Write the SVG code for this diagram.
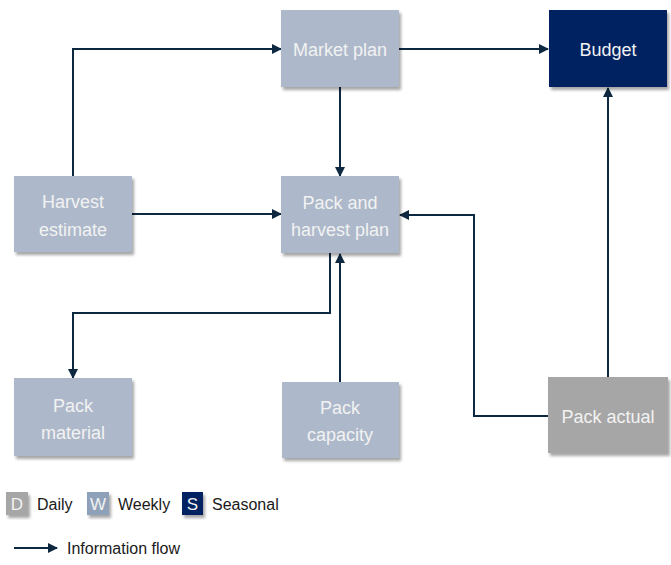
<svg xmlns="http://www.w3.org/2000/svg" width="671" height="565" viewBox="0 0 671 565">
  <style>
    .box { stroke: none; filter: url(#shadow); }
    .weekly { fill: #ADB9CA; }
    .weekly-key { fill: #8FA1B9; }
    .seasonal { fill: #002060; }
    .daily { fill: #A6A6A6; }
    .label { font-family: "Liberation Sans", Arial, sans-serif; font-size: 18px; fill: #F2F2F2; text-anchor: middle; }
    .legend { font-family: "Liberation Sans", Arial, sans-serif; font-size: 16px; fill: #1A1A1A; }
    .key { font-family: "Liberation Sans", Arial, sans-serif; font-size: 17px; fill: #F2F2F2; text-anchor: middle; }
    .flow { fill: none; stroke: #0E2841; stroke-width: 2; marker-end: url(#arrow); }
  </style>
  <defs>
    <filter id="shadow" x="-10%" y="-10%" width="130%" height="130%">
      <feDropShadow dx="2" dy="3" stdDeviation="1.8" flood-color="#000" flood-opacity="0.35"/>
    </filter>
    <marker id="arrow" viewBox="0 0 10 10" refX="9" refY="5" markerWidth="5" markerHeight="5" orient="auto" markerUnits="strokeWidth">
      <path d="M0,0 L10,5 L0,10 z" fill="#0E2841"/>
    </marker>
  </defs>

  <rect width="671" height="565" fill="#FFFFFF"/>

  <!-- connectors -->
  <g id="connectors">
    <path class="flow" d="M73,176 V49 H281"/>
    <path class="flow" d="M132,214 H281"/>
    <path class="flow" d="M399,49 H548"/>
    <path class="flow" d="M340,87 V176"/>
    <path class="flow" d="M330,253 V313 H73 V378"/>
    <path class="flow" d="M340,382 V254"/>
    <path class="flow" d="M548,416 H474 V215 H400"/>
    <path class="flow" d="M608,377 V88"/>
  </g>

  <!-- nodes -->
  <g id="market-plan">
    <rect class="box weekly" x="281" y="10" width="118" height="77"/>
    <text class="label" x="340" y="56">Market plan</text>
  </g>
  <g id="budget">
    <rect class="box seasonal" x="549" y="10" width="118" height="77"/>
    <text class="label" x="608" y="56" fill="#FFFFFF">Budget</text>
  </g>
  <g id="harvest-estimate">
    <rect class="box weekly" x="14" y="176" width="118" height="76"/>
    <text class="label" x="73" y="208">Harvest</text>
    <text class="label" x="73" y="236">estimate</text>
  </g>
  <g id="pack-and-harvest-plan">
    <rect class="box weekly" x="281" y="176" width="118" height="77"/>
    <text class="label" x="340" y="209">Pack and</text>
    <text class="label" x="340" y="236">harvest plan</text>
  </g>
  <g id="pack-material">
    <rect class="box weekly" x="14" y="378" width="118" height="78"/>
    <text class="label" x="73" y="412">Pack</text>
    <text class="label" x="73" y="439">material</text>
  </g>
  <g id="pack-capacity">
    <rect class="box weekly" x="282" y="382" width="117" height="76"/>
    <text class="label" x="340" y="414">Pack</text>
    <text class="label" x="340" y="441">capacity</text>
  </g>
  <g id="pack-actual">
    <rect class="box daily" x="548" y="377" width="120" height="76"/>
    <text class="label" x="608" y="423">Pack actual</text>
  </g>

  <!-- legend -->
  <g id="legend">
    <rect class="box daily" x="6" y="492" width="22" height="23"/>
    <text class="key" x="17" y="510">D</text>
    <text class="legend" x="37" y="510">Daily</text>
    <rect class="box weekly-key" x="87" y="492" width="22" height="23"/>
    <text class="key" x="98" y="510">W</text>
    <text class="legend" x="118" y="510">Weekly</text>
    <rect class="box seasonal" x="182" y="492" width="21" height="23"/>
    <text class="key" x="192.5" y="510" fill="#FFFFFF">S</text>
    <text class="legend" x="212" y="510">Seasonal</text>
    <path class="flow" d="M14,548 H57"/>
    <text class="legend" x="67" y="554">Information flow</text>
  </g>
</svg>
